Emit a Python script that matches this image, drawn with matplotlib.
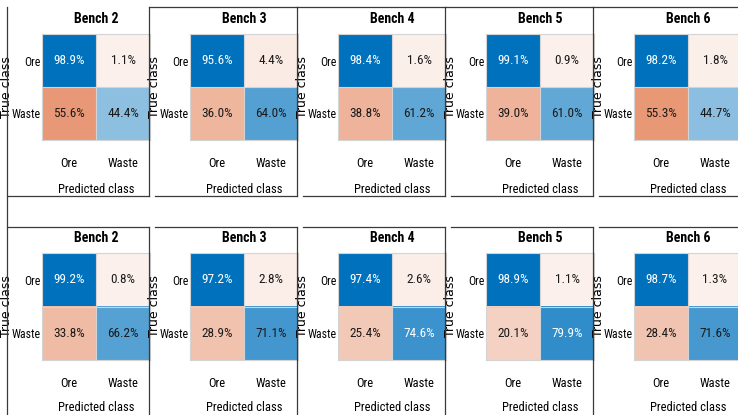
import numpy as np
import matplotlib
matplotlib.use("Agg")
import matplotlib.pyplot as plt
from matplotlib.colors import LinearSegmentedColormap, Normalize
from matplotlib.lines import Line2D
from matplotlib import font_manager

# Row-normalised confusion values (%) for each bench
benches = ["Bench 2", "Bench 3", "Bench 4", "Bench 5", "Bench 6"]
classes = ["Ore", "Waste"]

# first model
top_ore_ore = [98.9, 95.6, 98.4, 99.1, 98.2]
top_ore_waste = [1.1, 4.4, 1.6, 0.9, 1.8]
top_waste_ore = [55.6, 36.0, 38.8, 39.0, 55.3]
top_waste_waste = [44.4, 64.0, 61.2, 61.0, 44.7]

# second model
bot_ore_ore = [99.2, 97.2, 97.4, 98.9, 98.7]
bot_ore_waste = [0.8, 2.8, 2.6, 1.1, 1.3]
bot_waste_ore = [33.8, 28.9, 25.4, 20.1, 28.4]
bot_waste_waste = [66.2, 71.1, 74.6, 79.9, 71.6]

W, H = 738, 415
fig = plt.figure(figsize=(W / 100, H / 100), dpi=100)
fig.patch.set_facecolor("white")

# prefer a narrow sans if one is installed
names = {f.name for f in font_manager.fontManager.ttflist}
narrow = next((n for n in ["Liberation Sans Narrow", "Roboto Condensed",
                           "Open Sans Condensed"] if n in names), None)
if narrow:
    txt_font = [narrow, "DejaVu Sans"]
    fs_cell, fs_tick, fs_title, fs_xlab = 9.5, 8.5, 10, 9
else:
    txt_font = ["Liberation Sans", "DejaVu Sans"]
    fs_cell, fs_tick, fs_title, fs_xlab = 8.5, 7.5, 9, 8.5

diag_cmap = LinearSegmentedColormap.from_list("diag", ["#ffffff", "#0072BD"])
off_cmap = LinearSegmentedColormap.from_list("off", ["#fcf2ee", "#D95319"])


def px_axes(x0, y0, w, h):
    return fig.add_axes([x0 / W, 1 - (y0 + h) / H, w / W, h / H])


def draw_chart(ax, title, mat, xlab_y):
    vmax = mat.max()
    norm = Normalize(0, vmax)
    eye = np.eye(2, dtype=bool)
    ax.imshow(np.ma.masked_where(~eye, mat), cmap=diag_cmap, norm=norm,
              aspect="auto", interpolation="nearest")
    ax.imshow(np.ma.masked_where(eye, mat), cmap=off_cmap, norm=norm,
              aspect="auto", interpolation="nearest")
    for r in range(2):
        for c in range(2):
            v = mat[r, c]
            col = "white" if (r == c and norm(v) > 0.75) else "#1a1a1a"
            ax.text(c, r, f"{v:.1f}%", ha="center", va="center",
                    fontsize=fs_cell, color=col, family=txt_font)
    ax.axhline(0.5, color="#d4d4d4", lw=0.8)
    ax.axvline(0.5, color="#d4d4d4", lw=0.8)
    for s in ax.spines.values():
        s.set_color("#d4d4d4")
        s.set_linewidth(0.8)
    ax.set_xticks([0, 1], labels=classes, family=txt_font, fontsize=fs_tick + 0.5)
    ax.set_yticks([0, 1], labels=classes, family=txt_font, fontsize=fs_tick)
    ax.tick_params(length=0)
    ax.tick_params(axis="x", pad=12.5)
    ax.tick_params(axis="y", pad=0.8)
    ax.set_title(title, fontsize=fs_title, fontweight="bold", family=txt_font,
                 pad=8)
    ax.set_xlabel("Predicted class", fontsize=fs_xlab, family=txt_font)
    ax.xaxis.set_label_coords(0.5, xlab_y)
    ax.set_ylabel("True class", fontsize=9, family="DejaVu Sans")
    ax.yaxis.set_label_coords(-0.265, 0.5)


rows = [
    (34, 106, -0.41, top_ore_ore, top_ore_waste, top_waste_ore, top_waste_waste),
    (253, 107, -0.385, bot_ore_ore, bot_ore_waste, bot_waste_ore, bot_waste_waste),
]
for y0, h, xlab_y, oo, ow, wo, ww in rows:
    for i, name in enumerate(benches):
        mat = np.array([[oo[i], ow[i]], [wo[i], ww[i]]])
        ax = px_axes(42 + 148 * i, y0, 108, h)
        draw_chart(ax, name, mat, xlab_y)


# panel frames, in pixel positions from the top-left corner
def fline(xs, ys):
    fig.add_artist(Line2D([x / W for x in xs], [1 - y / H for y in ys],
                          color="#3a3a3a", lw=0.9, transform=fig.transFigure))


bounds = [149 + 148 * k for k in range(4)]
fline([7, 7], [7, H])
for xb in bounds:
    fline([xb, xb], [7, 196])
    fline([xb, xb], [227, H])
starts = [7] + [b + 6 for b in bounds]
ends = bounds + [W]
for k, (s, e) in enumerate(zip(starts, ends)):
    fline([s, e], [196, 196])
    fline([s, e], [227, 227])
    if k > 0:
        fline([s - 6, e], [7, 7])

fig.savefig("out.png", dpi=100)
